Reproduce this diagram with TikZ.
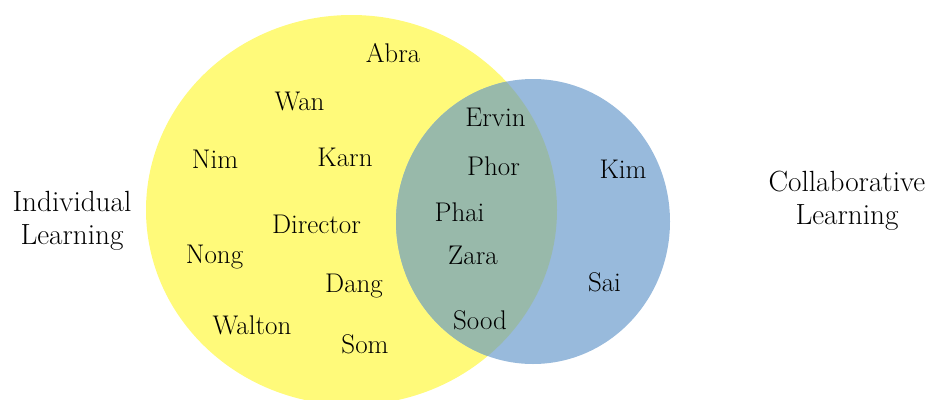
\documentclass[tikz,border=0pt]{standalone}
\usepackage{fontspec}
\definecolor{indiv}{RGB}{255,250,122}
\definecolor{collab}{RGB}{152,186,220}
\definecolor{both}{RGB}{152,185,170}
\begin{document}
\begin{tikzpicture}[x=1pt,y=-1pt,
  member/.style={anchor=base,inner sep=0pt,font=\fontsize{27}{30}\selectfont},
  setlabel/.style={align=center,inner sep=0pt,font=\fontsize{29.2}{33.5}\selectfont}]
  \useasboundingbox (0,0) rectangle (929,399);
  \clip (0,0) rectangle (929,399);
  % the two sets
  \fill[indiv] (351.5,210) ellipse [x radius=205.5pt, y radius=195pt];
  \fill[collab] (533,221.5) ellipse [x radius=137pt, y radius=142.5pt];
  % their intersection
  \begin{scope}
    \clip (351.5,210) ellipse [x radius=205.5pt, y radius=195pt];
    \fill[both] (533,221.5) ellipse [x radius=137pt, y radius=142.5pt];
  \end{scope}
  % set labels
  \node[setlabel] (indivlabel) at (72,221) {Individual\\Learning};
  \node[setlabel] (collablabel) at (847,201) {Collaborative\\Learning};
  % individual learning only
  \node[member] (abra) at (393,62) {Abra};
  \node[member] (wan) at (299.5,110) {Wan};
  \node[member] (nim) at (215,168) {Nim};
  \node[member] (karn) at (345,166) {Karn};
  \node[member] (director) at (316.5,233) {Director};
  \node[member] (nong) at (214.5,263) {Nong};
  \node[member] (dang) at (354,292) {Dang};
  \node[member] (walton) at (252,334) {Walton};
  \node[member] (som) at (365,353) {Som};
  % both
  \node[member] (ervin) at (495.5,126) {Ervin};
  \node[member] (phor) at (493.5,175) {Phor};
  \node[member] (phai) at (459.5,221) {Phai};
  \node[member] (zara) at (473,264) {Zara};
  \node[member] (sood) at (480,329) {Sood};
  % collaborative learning only
  \node[member] (kim) at (623,178) {Kim};
  \node[member] (sai) at (604.5,291) {Sai};
\end{tikzpicture}
\end{document}
